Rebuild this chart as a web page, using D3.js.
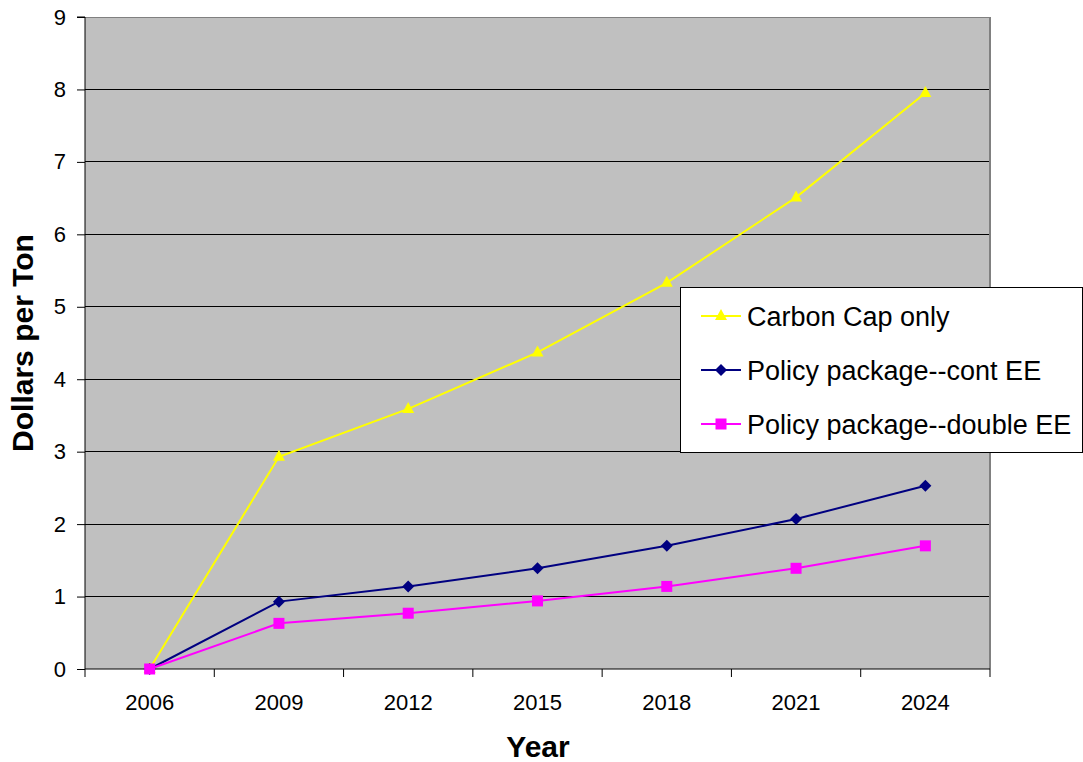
<!DOCTYPE html>
<html><head><meta charset="utf-8">
<script src="https://cdn.jsdelivr.net/npm/d3@7/dist/d3.min.js"></script>
<style>body{margin:0;background:#fff}svg{display:block;font-family:Arial,"Liberation Sans",sans-serif}</style>
</head><body><svg id="c" width="1083" height="762"></svg>
<script>
const years = ["2006","2009","2012","2015","2018","2021","2024"];
const carbonCap = [0, 2.93, 3.59, 4.37, 5.33, 6.51, 7.95];
const contEE = [0, 0.93, 1.14, 1.39, 1.70, 2.07, 2.53];
const doubleEE = [0, 0.63, 0.77, 0.94, 1.14, 1.39, 1.70];
const yTicks = [0,1,2,3,4,5,6,7,8,9];
const seriesNames = ["Carbon Cap only","Policy package--cont EE","Policy package--double EE"];
const seriesColors = ["#FFFF00","#000080","#FF00FF"];
const seriesShapes = ["triangle","diamond","square"];
const seriesData = [carbonCap, contEE, doubleEE];

const svg = d3.select("#c");
const L=85, R=990, T=17, B=669;
const x = d3.scaleBand().domain(years).range([L,R]);
const y = d3.scaleLinear().domain([0,9]).range([B,T]);

svg.append("rect").attr("x",L).attr("y",T).attr("width",R-L).attr("height",B-T).attr("fill","#C0C0C0");
svg.append("g").selectAll("line").data(yTicks.slice(1)).join("line")
  .attr("x1",L).attr("x2",R).attr("y1",d=>y(d)).attr("y2",d=>y(d))
  .attr("stroke","#000").attr("stroke-width",1).attr("shape-rendering","crispEdges");
svg.append("line").attr("x1",R).attr("x2",R).attr("y1",T).attr("y2",B).attr("stroke","#808080").attr("stroke-width",2);
svg.append("line").attr("x1",L).attr("x2",R).attr("y1",T).attr("y2",T).attr("stroke","#808080").attr("stroke-width",1).attr("shape-rendering","crispEdges");

const FF = "Arial,'Liberation Sans',sans-serif";
const yAxis = d3.axisLeft(y).tickValues(yTicks).tickSize(8).tickPadding(11).tickFormat(d3.format("d"));
const gy = svg.append("g").attr("transform",`translate(${L},0)`).call(yAxis);
gy.select(".domain").attr("stroke","#000").attr("d",`M-8,${T}H0V${B}`);
gy.selectAll("text").attr("font-size",22).attr("fill","#000").attr("font-family",FF);

const xAxis = d3.axisBottom(x).tickSize(0).tickPadding(25);
const gx = svg.append("g").attr("transform",`translate(0,${B})`).call(xAxis);
gx.select(".domain").attr("stroke","#000").attr("d",`M${L},0H${R}`);
gx.selectAll("text").attr("font-size",22).attr("fill","#000").attr("font-family",FF);
const bounds = years.map(d=>x(d)).concat([R]);
gx.append("g").selectAll("line").data(bounds).join("line")
  .attr("x1",d=>d).attr("x2",d=>d).attr("y1",0).attr("y2",8).attr("stroke","#000");

const line = d3.line().x((d,i)=>x(years[i])+x.bandwidth()/2).y(d=>y(d));
function marker(g, shape, color, cx, cy){
  if(shape==="triangle"){
    g.append("path").attr("d",`M${cx},${cy-7}L${cx+6},${cy+4}L${cx-6},${cy+4}Z`).attr("fill",color);
  } else if(shape==="diamond"){
    g.append("path").attr("d",`M${cx},${cy-6}L${cx+6},${cy}L${cx},${cy+6}L${cx-6},${cy}Z`).attr("fill",color);
  } else {
    g.append("rect").attr("x",cx-5.5).attr("y",cy-5.5).attr("width",11).attr("height",11).attr("fill",color);
  }
}
seriesData.forEach((arr,si)=>{
  const g = svg.append("g");
  g.append("path").datum(arr).attr("d",line).attr("fill","none").attr("stroke",seriesColors[si]).attr("stroke-width",2);
  arr.forEach((v,i)=>marker(g, seriesShapes[si], seriesColors[si], x(years[i])+x.bandwidth()/2, y(v)));
});

const lg = svg.append("g");
lg.append("rect").attr("x",680.5).attr("y",287.5).attr("width",402).attr("height",165).attr("fill","#fff").attr("stroke","#000").attr("stroke-width",1);
const rowsY = [316, 370, 424];
seriesNames.forEach((n,i)=>{
  lg.append("line").attr("x1",701).attr("x2",741).attr("y1",rowsY[i]).attr("y2",rowsY[i]).attr("stroke",seriesColors[i]).attr("stroke-width",2);
  marker(lg, seriesShapes[i], seriesColors[i], 721, rowsY[i]);
  lg.append("text").attr("x",747).attr("y",rowsY[i]+10).attr("font-size",27).attr("fill","#000").attr("font-family",FF).text(n);
});

svg.append("text").attr("x",538).attr("y",757).attr("text-anchor","middle").attr("font-size",30).attr("font-weight","bold").attr("font-family",FF).text("Year");
svg.append("text").attr("transform","translate(33,343) rotate(-90)").attr("text-anchor","middle").attr("font-size",30).attr("font-weight","bold").attr("font-family",FF).text("Dollars per Ton");
</script></body></html>
